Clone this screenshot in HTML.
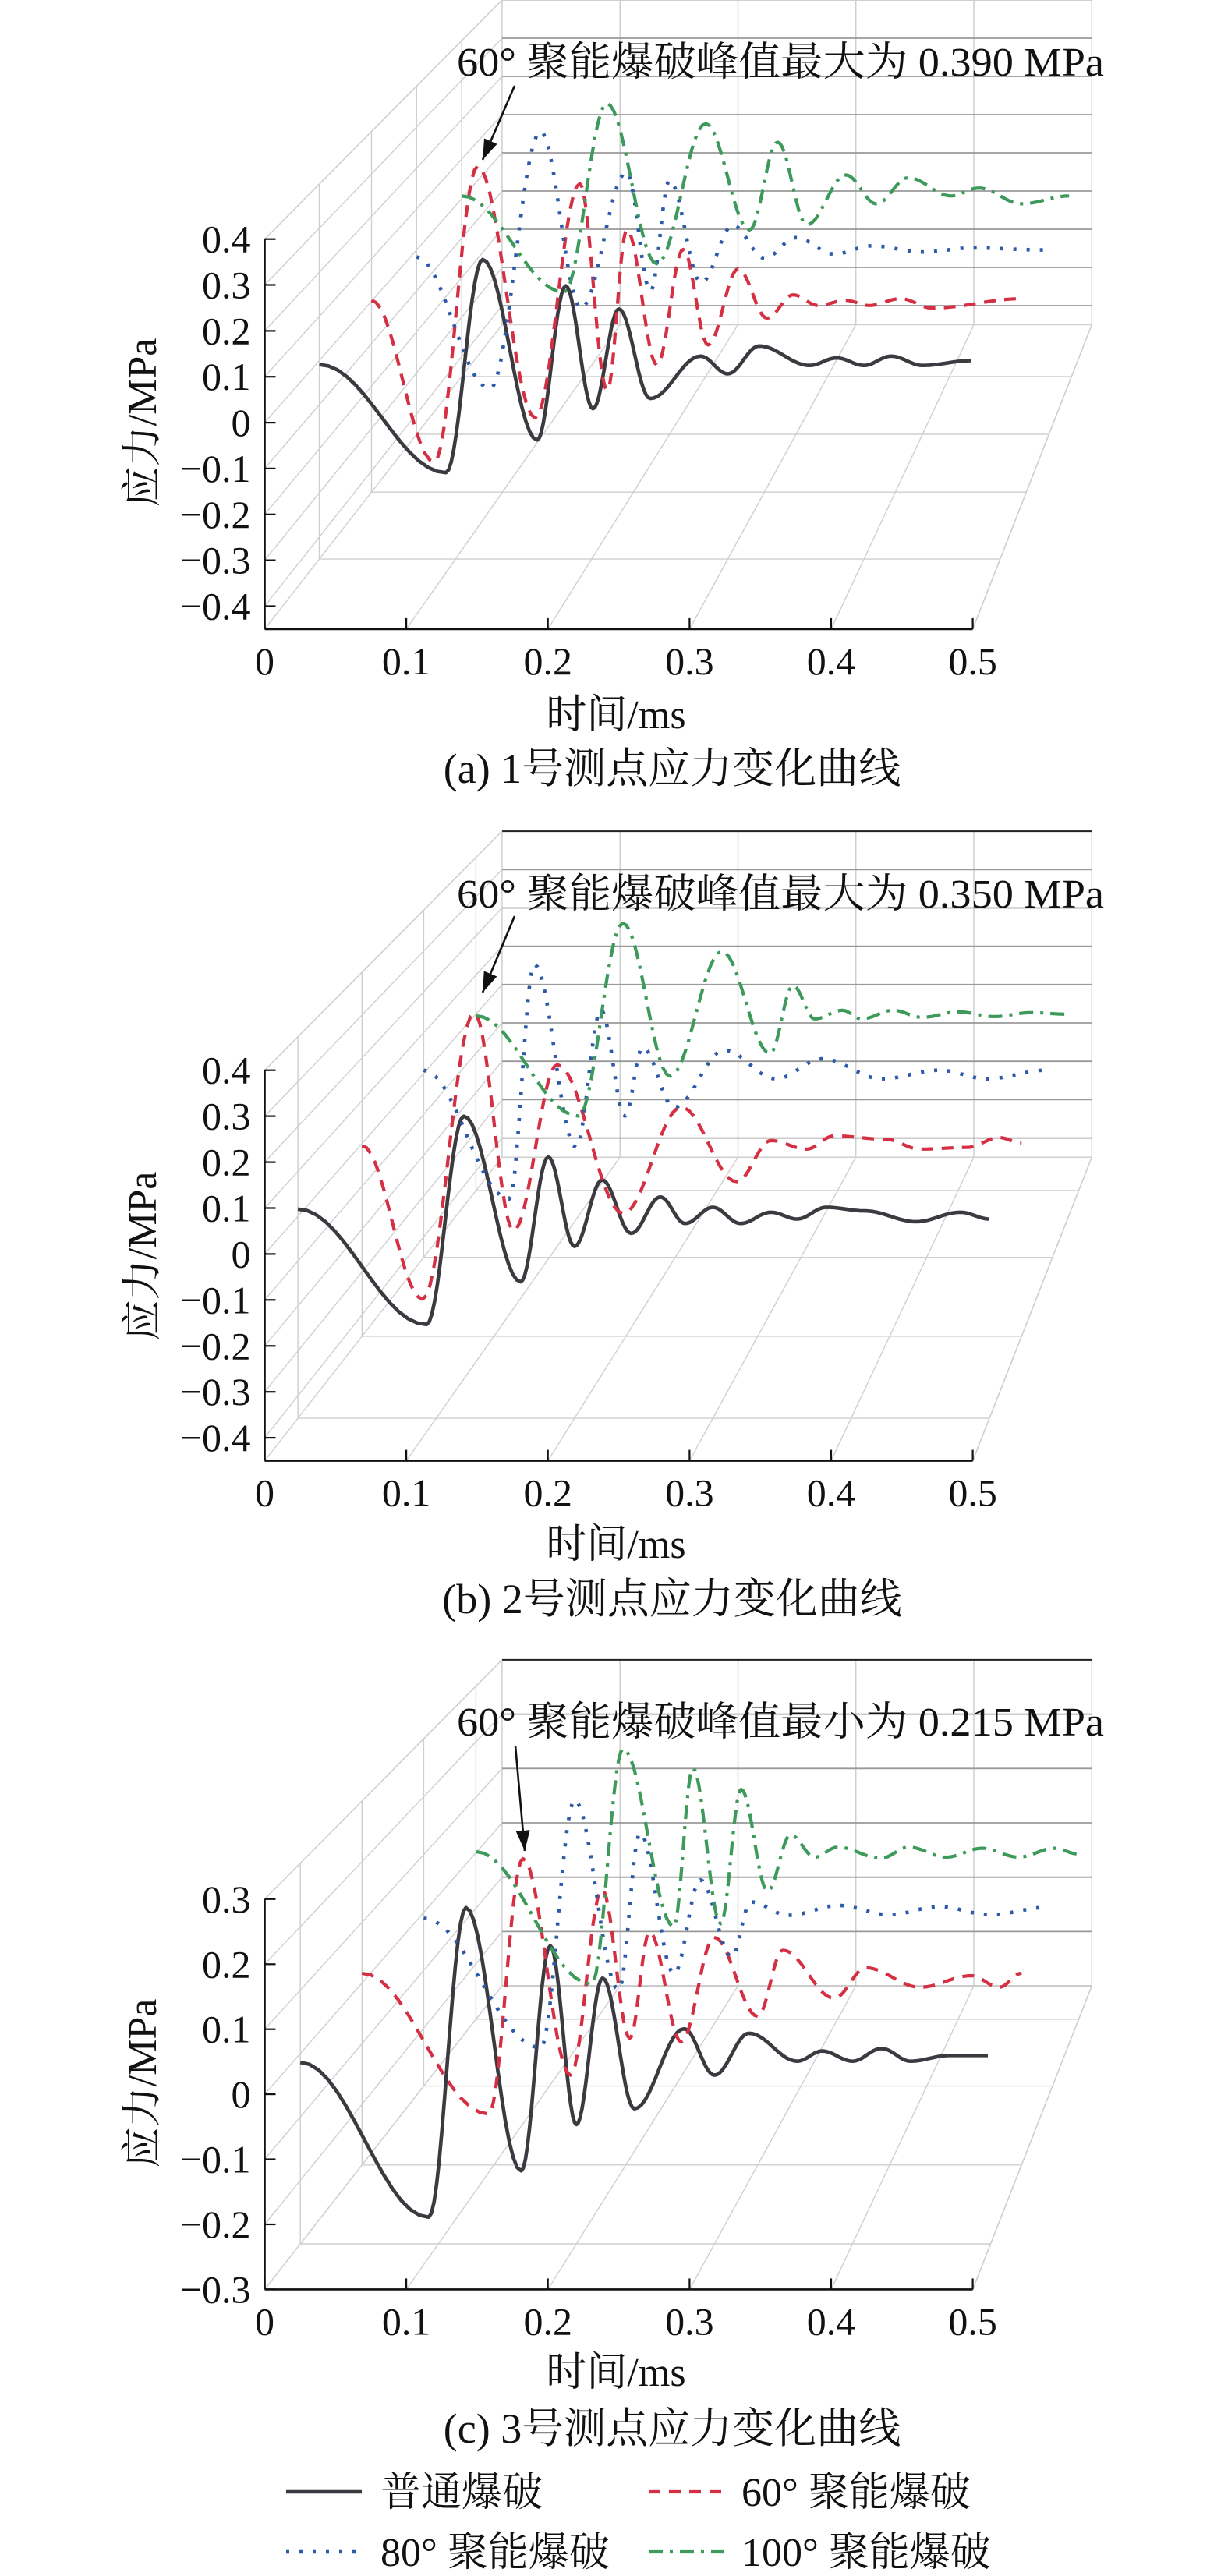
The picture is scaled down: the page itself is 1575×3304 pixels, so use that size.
<!DOCTYPE html>
<html><head><meta charset="utf-8">
<style>
html,body{margin:0;padding:0;background:#fff;}
svg{display:block;}
text{font-family:"Liberation Serif","Noto Serif CJK SC",serif;fill:#111;}
</style></head>
<body>
<svg id="fig" width="1575" height="3304" viewBox="0 0 1575 3304" xmlns="http://www.w3.org/2000/svg"></svg>
<script>
// ---------- data: panel (a) ----------
const aBlackT=[0,0.093,0.12,0.16,0.181,0.201,0.22,0.243,0.28,0.30,0.323,0.36,0.38,0.40,0.42,0.443,0.479];
const aBlackZ=[-0.009,-0.254,0.229,-0.18,0.169,-0.109,0.117,-0.086,0.01,-0.03,0.033,-0.011,0.006,-0.011,0.01,-0.011,0];
const aRedT=[0,0.048,0.081,0.125,0.159,0.18,0.195,0.218,0.238,0.257,0.28,0.302,0.322,0.341,0.362,0.38,0.404,0.428,0.497];
const aRedZ=[0.002,-0.379,0.318,-0.275,0.277,-0.21,0.168,-0.15,0.122,-0.103,0.076,-0.04,0.015,-0.01,0.002,-0.01,0.006,-0.016,0.006];
const aBlueT=[0,0.058,0.098,0.13,0.166,0.185,0.2,0.225,0.25,0.275,0.3,0.33,0.36,0.4,0.44,0.497];
const aBlueZ=[-0.017,-0.339,0.289,-0.142,0.19,-0.1,0.17,-0.08,0.06,-0.02,0.03,-0.01,0.01,-0.005,0.005,0];
const aGreenT=[0,0.084,0.119,0.16,0.2,0.236,0.259,0.283,0.315,0.34,0.366,0.401,0.424,0.459,0.498];
const aGreenZ=[0.007,-0.237,0.241,-0.165,0.19,-0.079,0.143,-0.066,0.06,-0.013,0.053,0.007,0.027,-0.013,0.007];
// ---------- data: panel (b) ----------
const bBlackT=[0,0.093,0.12,0.161,0.181,0.2,0.22,0.241,0.262,0.28,0.3,0.32,0.342,0.361,0.382,0.41,0.447,0.479,0.5];
const bBlackZ=[0.016,-0.241,0.223,-0.146,0.132,-0.067,0.081,-0.038,0.043,-0.016,0.02,-0.016,0.009,-0.006,0.02,0.012,-0.012,0.009,-0.006];
const bRedT=[0,0.046,0.085,0.115,0.148,0.198,0.242,0.284,0.31,0.337,0.358,0.397,0.423,0.459,0.483,0.5];
const bRedZ=[-0.005,-0.363,0.305,-0.203,0.184,-0.163,0.085,-0.089,0.007,-0.013,0.018,0.01,-0.013,-0.009,0.014,0.001];
const bBlueT=[0,0.068,0.088,0.121,0.141,0.16,0.174,0.199,0.239,0.28,0.317,0.364,0.41,0.448,0.495];
const bBlueZ=[0.008,-0.307,0.267,-0.181,0.155,-0.104,0.064,-0.083,0.057,-0.013,0.036,-0.013,0.008,-0.013,0.008];
const bGreenT=[0,0.085,0.122,0.161,0.204,0.244,0.263,0.281,0.304,0.32,0.346,0.37,0.4,0.43,0.46,0.492];
const bGreenZ=[-0.004,-0.26,0.232,-0.158,0.16,-0.1,0.073,-0.012,0.01,-0.012,0.01,-0.008,0.006,-0.006,0.004,0];
// ---------- data: panel (c) ----------
const cBlackT=[0,0.093,0.12,0.16,0.181,0.2,0.219,0.242,0.278,0.3,0.325,0.36,0.378,0.4,0.421,0.442,0.47,0.498];
const cBlackZ=[-0.014,-0.258,0.23,-0.185,0.17,-0.112,0.119,-0.087,0.039,-0.034,0.032,-0.012,0.004,-0.012,0.008,-0.012,-0.003,-0.003];
const cRedT=[0,0.096,0.122,0.158,0.182,0.203,0.218,0.242,0.267,0.3,0.319,0.358,0.382,0.423,0.462,0.483,0.5];
const cRedZ=[0.016,-0.216,0.205,-0.152,0.154,-0.091,0.084,-0.097,0.075,-0.055,0.054,-0.025,0.025,-0.007,0.012,-0.007,0.016];
const cBlueT=[0,0.093,0.12,0.155,0.172,0.199,0.22,0.245,0.26,0.29,0.33,0.37,0.41,0.45,0.497];
const cBlueZ=[-0.01,-0.234,0.194,-0.134,0.137,-0.106,0.056,-0.077,0.018,-0.005,0.012,-0.004,0.01,-0.004,0.009];
const cGreenT=[0,0.096,0.122,0.164,0.18,0.203,0.22,0.242,0.261,0.281,0.3,0.336,0.359,0.39,0.42,0.45,0.48,0.499];
const cGreenZ=[0.002,-0.237,0.187,-0.133,0.152,-0.128,0.114,-0.069,0.032,-0.008,0.01,-0.01,0.01,-0.008,0.008,-0.008,0.008,-0.002];
// ---------- ticks / labels ----------
const xTicks=[0,0.1,0.2,0.3,0.4,0.5];
const xTickLabels=["0","0.1","0.2","0.3","0.4","0.5"];
const zTicksAB=[-0.4,-0.3,-0.2,-0.1,0,0.1,0.2,0.3,0.4];
const zTickLabelsAB=["−0.4","−0.3","−0.2","−0.1","0","0.1","0.2","0.3","0.4"];
const zTicksC=[-0.3,-0.2,-0.1,0,0.1,0.2,0.3];
const zTickLabelsC=["−0.3","−0.2","−0.1","0","0.1","0.2","0.3"];
const seriesNames=["普通爆破","60° 聚能爆破","80° 聚能爆破","100° 聚能爆破"];

const NS="http://www.w3.org/2000/svg";
const svg=document.getElementById('fig');
function mk(tag,attrs,parent){const e=document.createElementNS(NS,tag);for(const k in attrs)e.setAttribute(k,attrs[k]);(parent||svg).appendChild(e);return e;}
const styles=[
 {stroke:"#3a3a40",w:4.6,dash:"none"},
 {stroke:"#d42f42",w:4.2,dash:"15 11"},
 {stroke:"#2d5aa8",w:4.6,dash:"4 13"},
 {stroke:"#3d9a5a",w:4.2,dash:"18 9 4 9"}
];

function panel(cfg){
 const g=mk('g',{});
 
 
 const P=(t,z,d)=>{
  const xf=cfg.fx0+(t/0.5)*(cfg.fx1-cfg.fx0), xb=cfg.bx0+(t/0.5)*(cfg.bx1-cfg.bx0);
  const yf=cfg.fy0-(z-cfg.zmin)*cfg.fs, yb=cfg.by0-(z-cfg.zmin)*cfg.bs;
  return [xf*(1-d)+xb*d, yf*(1-d)+yb*d];
 };
 const grid=mk('g',{},g);
 
 
 const line=(a,b,col,w,par)=>mk('line',{x1:a[0].toFixed(1),y1:a[1].toFixed(1),x2:b[0].toFixed(1),y2:b[1].toFixed(1),stroke:col,'stroke-width':w},par||grid);
 const light="#cfcfcf", mid="#999";
 xTicks.forEach(t=>line(P(t,cfg.zmin,1),P(t,cfg.zmax,1),light,1.5));
 cfg.zt.forEach(z=>line(P(0,z,1),P(0.5,z,1),mid,1.8));
 line(P(0,cfg.zmax,1),P(0.5,cfg.zmax,1),cfg.topCol,2);
 line(P(0,cfg.zmin,1),P(0.5,cfg.zmin,1),light,1.5);
 cfg.zt.forEach(z=>line(P(0,z,0),P(0,z,1),light,1.4));
 line(P(0,cfg.zmax,0),P(0,cfg.zmax,1),light,1.4);
 cfg.depths.forEach(d=>line(P(0,cfg.zmin,d),P(0,cfg.zmax,d),light,1.4));
 xTicks.forEach(t=>line(P(t,cfg.zmin,0),P(t,cfg.zmin,1),light,1.4));
 cfg.depths.forEach(d=>line(P(0,cfg.zmin,d),P(0.5,cfg.zmin,d),light,1.4));
 const data=cfg.data;
 data.forEach((s,i)=>{
  const pts=[];
  for(let k=0;k<s.t.length-1;k++){
   const n=14;
   for(let j=0;j<n;j++){
    const u=j/n, e=(1-Math.cos(Math.PI*u))/2;
    const t=s.t[k]+(s.t[k+1]-s.t[k])*u, z=s.z[k]+(s.z[k+1]-s.z[k])*e;
    pts.push(P(t,z,cfg.depths[i]));
   }
  }
  pts.push(P(s.t[s.t.length-1],s.z[s.z.length-1],cfg.depths[i]));
  const p=mk('polyline',{points:pts.map(q=>q[0].toFixed(1)+','+q[1].toFixed(1)).join(' '),fill:'none',stroke:styles[i].stroke,'stroke-width':styles[i].w,'stroke-dasharray':styles[i].dash,'stroke-linejoin':'round'},g);
  
  
 });
 const ax=mk('g',{},g);
 
 
 line(P(0,cfg.zmin,0),P(0.5,cfg.zmin,0),'#111',2.6,ax);
 line(P(0,cfg.zmin,0),P(0,cfg.zmax,0),'#111',2.6,ax);
 line(P(0.5,cfg.zmin,0),P(0.5,cfg.zmin,1),light,1.5,ax);
 xTicks.forEach((t,i)=>{
  const a=P(t,cfg.zmin,0);
  line(a,[a[0],a[1]-14],'#111',2.2,ax);
  const tx=mk('text',{x:a[0].toFixed(1),y:(a[1]+58).toFixed(1),'font-size':50,'text-anchor':'middle'},ax);
  tx.textContent=xTickLabels[i];
  
  
 });
 cfg.zt.forEach((z,i)=>{
  const a=P(0,z,0);
  line(a,[a[0]+14,a[1]],'#111',2.2,ax);
  const tx=mk('text',{x:(a[0]-18).toFixed(1),y:(a[1]+17).toFixed(1),'font-size':50,'text-anchor':'end'},ax);
  tx.textContent=cfg.ztl[i];
  
  
 });
 const yl=mk('text',{x:0,y:0,'font-size':52,'text-anchor':'middle',transform:`translate(${cfg.ylx},${cfg.yly}) rotate(-90)`},g);
 yl.textContent="应力/MPa";
 
 
 const xl=mk('text',{x:790,y:cfg.xly,'font-size':52,'text-anchor':'middle'},g);
 xl.textContent="时间/ms";
 
 
 const cap=mk('text',{x:862,y:cfg.capy,'font-size':54,'text-anchor':'middle'},g);
 cap.textContent=cfg.caption;
 
 
 const an=mk('text',{x:586,y:cfg.any,'font-size':52,textLength:830,lengthAdjust:'spacingAndGlyphs'},g);
 an.textContent=cfg.annot;
 
 
 const ar=mk('g',{},g);
 
 
 const [x1,y1,x2,y2]=cfg.arrow;
 mk('line',{x1,y1,x2,y2,stroke:'#111','stroke-width':2.6},ar);
 const ang=Math.atan2(y2-y1,x2-x1), L=26, W=9;
 const bx=x2-L*Math.cos(ang), by=y2-L*Math.sin(ang);
 mk('polygon',{points:`${x2},${y2} ${bx+W*Math.sin(ang)},${by-W*Math.cos(ang)} ${bx-W*Math.sin(ang)},${by+W*Math.cos(ang)}`,fill:'#111'},ar);
}

panel({name:'panel-a',id:'a',fx0:339.5,fx1:1247.6,bx0:643.9,bx1:1400.3,zmin:-0.45,zmax:0.4,fy0:806.9,fs:588.5,by0:416.5,bs:490,
 zt:zTicksAB,ztl:zTickLabelsAB,depths:[0.23,0.45,0.64,0.83],topCol:'#cfcfcf',
 data:[{t:aBlackT,z:aBlackZ},{t:aRedT,z:aRedZ},{t:aBlueT,z:aBlueZ},{t:aGreenT,z:aGreenZ}],
 ylx:200,yly:542,xly:934,capy:1004,caption:"(a) 1号测点应力变化曲线",annot:"60° 聚能爆破峰值最大为 0.390 MPa",any:97,arrow:[660,110,619,205]});
panel({name:'panel-b',id:'b',fx0:339.5,fx1:1247.6,bx0:643.9,bx1:1400.3,zmin:-0.45,zmax:0.4,fy0:1873.6,fs:589.3,by0:1484.2,bs:491.9,
 zt:zTicksAB,ztl:zTickLabelsAB,depths:[0.14,0.41,0.67,0.89],topCol:'#222',
 data:[{t:bBlackT,z:bBlackZ},{t:bRedT,z:bRedZ},{t:bBlueT,z:bBlueZ},{t:bGreenT,z:bGreenZ}],
 ylx:200,yly:1611,xly:1998,capy:2069,caption:"(b) 2号测点应力变化曲线",annot:"60° 聚能爆破峰值最大为 0.350 MPa",any:1164,arrow:[660,1175,619,1273]});
panel({name:'panel-c',id:'c',fx0:339.5,fx1:1247.6,bx0:643.9,bx1:1400.3,zmin:-0.3,zmax:0.3,fy0:2936.4,fs:834.3,by0:2547.1,bs:697,
 zt:zTicksC,ztl:zTickLabelsC,depths:[0.15,0.41,0.67,0.89],topCol:'#222',
 data:[{t:cBlackT,z:cBlackZ},{t:cRedT,z:cRedZ},{t:cBlueT,z:cBlueZ},{t:cGreenT,z:cGreenZ}],
 ylx:200,yly:2672,xly:3060,capy:3133,caption:"(c) 3号测点应力变化曲线",annot:"60° 聚能爆破峰值最小为 0.215 MPa",any:2226,arrow:[661,2239,673,2374]});

const lg=mk('g',{});


const legPos=[[367,3196,488,3214],[832,3196,951,3214],[367,3273,488,3291],[832,3273,951,3291]];
seriesNames.forEach((nm,i)=>{
 const [lx,ly,tx,ty]=legPos[i];
 const e=mk('g',{},lg);
 
 
 mk('line',{x1:lx,y1:ly,x2:lx+97,y2:ly,stroke:styles[i].stroke,'stroke-width':styles[i].w,'stroke-dasharray':styles[i].dash},e);
 const t=mk('text',{x:tx,y:ty,'font-size':52},e);
 t.textContent=nm;
});
</script>
</body></html>
